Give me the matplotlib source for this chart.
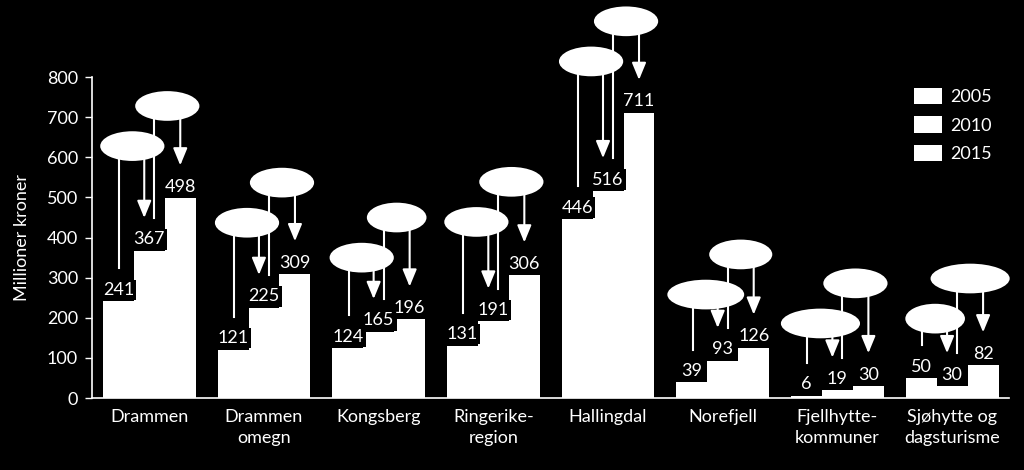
import numpy as np
import matplotlib
matplotlib.use('Agg')
import matplotlib.pyplot as plt
from matplotlib.patches import Ellipse

plt.rcParams['font.family'] = ['Lato', 'DejaVu Sans']
plt.rcParams['font.size'] = 13

#---------Data--------------------
categories = ['Drammen', 'Drammen\nomegn', 'Kongsberg', 'Ringerike-\nregion',
              'Hallingdal', 'Norefjell', 'Fjellhytte-\nkommuner', 'Sjøhytte og\ndagsturisme']
years = ['2005', '2010', '2015']
v2005 = [241, 121, 124, 131, 446, 39, 6, 50]
v2010 = [367, 225, 165, 191, 516, 93, 19, 30]
v2015 = [498, 309, 196, 306, 711, 126, 30, 82]
# height (in Mkr) of the upper change bubble above each group
bubble_y = [728, 537, 450, 539, 939, 358, 286, 298]
# bubble widths (category units): 2005->2010 and 2010->2015
bubble_w_low = [0.56, 0.56, 0.56, 0.56, 0.56, 0.67, 0.69, 0.52]
bubble_w_up = [0.56, 0.56, 0.52, 0.56, 0.56, 0.55, 0.56, 0.69]

fig = plt.figure(figsize=(10.24, 4.7), dpi=100, facecolor='black')
ax = fig.add_axes([0.0898, 0.153, 0.896, 0.683])
ax.set_facecolor('black')

x = np.arange(len(categories))
w = 0.27
series = [v2005, v2010, v2015]
for i, vals in enumerate(series):
    ax.bar(x + (i - 1) * w, vals, w, color='white', edgecolor='none', label=years[i], zorder=2)
    for xi, v in zip(x + (i - 1) * w, vals):
        ax.annotate(str(v), (xi, v), xytext=(0, 2.5), textcoords='offset points',
                    ha='center', va='bottom', color='white', fontsize=13, zorder=4,
                    bbox=dict(boxstyle='square,pad=0.12', fc='black', ec='none'))

# change bubbles with lines / arrows down to the labels
gap = 82  # label top above bar top, in data units
eh = 74
arrow = dict(arrowstyle='-|>,head_length=0.8,head_width=0.33', color='white', lw=1.5,
             shrinkA=0, shrinkB=0)
for xi, a, b, c, yu, wl, wu in zip(x, v2005, v2010, v2015, bubble_y, bubble_w_low, bubble_w_up):
    yl = yu - 100
    ax.add_patch(Ellipse((xi - 0.148, yl), wl, eh, fc='white', ec='none', zorder=5, clip_on=False))
    ax.add_patch(Ellipse((xi + 0.157, yu), wu, eh, fc='white', ec='none', zorder=5, clip_on=False))
    ax.plot([xi - 0.262, xi - 0.262], [yl, a + gap], color='white', lw=1.5, zorder=3, clip_on=False)
    ax.annotate('', xy=(xi - 0.044, b + gap), xytext=(xi - 0.044, yl), arrowprops=arrow,
                zorder=3, annotation_clip=False)
    ax.plot([xi + 0.044, xi + 0.044], [yu, b + gap], color='white', lw=1.5, zorder=3, clip_on=False)
    ax.annotate('', xy=(xi + 0.27, c + gap), xytext=(xi + 0.27, yu), arrowprops=arrow,
                zorder=3, annotation_clip=False)

ax.set_xlim(-0.5, len(categories) - 0.5)
ax.set_ylim(0, 800)
ax.set_yticks(range(0, 801, 100))
ax.set_xticks(x)
ax.set_xticklabels(categories, color='white', fontsize=13, linespacing=1.35)
ax.tick_params(axis='x', length=0, pad=8)
ax.tick_params(axis='y', colors='white', length=5, width=1, labelsize=13, pad=5)
ax.set_ylabel('Millioner kroner', color='white', fontsize=13, labelpad=12)

for s in ['top', 'right']:
    ax.spines[s].set_visible(False)
for s in ['left', 'bottom']:
    ax.spines[s].set_color('white')
    ax.spines[s].set_linewidth(1.2)

leg = fig.legend(loc='upper left', bbox_to_anchor=(0.893, 0.813), frameon=False,
                 fontsize=13, handlelength=1.5, handleheight=1.0, handletextpad=0.5,
                 labelspacing=0.62, borderpad=0, borderaxespad=0)
for t in leg.get_texts():
    t.set_color('white')

fig.savefig('out.png', dpi=100, facecolor='black')
